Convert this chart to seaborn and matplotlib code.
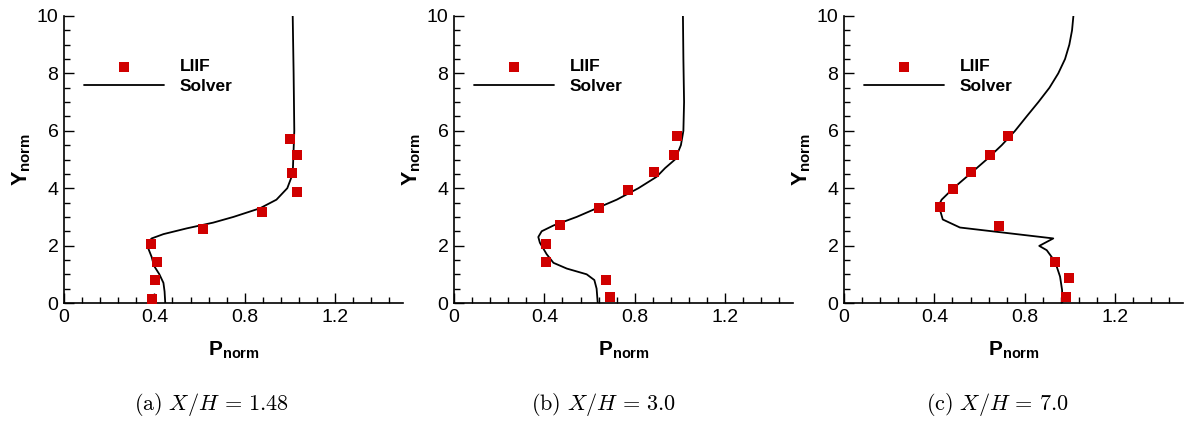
import numpy as np
import pandas as pd
import matplotlib
matplotlib.use("Agg")
import matplotlib.pyplot as plt
from matplotlib.ticker import MultipleLocator, FormatStrFormatter
import seaborn as sns

sns.set_theme(style="white")
plt.rcParams['font.family'] = ['Liberation Sans', 'DejaVu Sans']
plt.rcParams['mathtext.fontset'] = 'custom'
plt.rcParams['mathtext.rm'] = 'Liberation Sans'
plt.rcParams['mathtext.bf'] = 'Liberation Sans:bold'
plt.rcParams['mathtext.it'] = 'Liberation Sans:italic'

# ---------------- data ----------------
captions = [r"$\mathrm{(a)}\ X/H\, =\, 1.48$", r"$\mathrm{(b)}\ X/H\, =\, 3.0$", r"$\mathrm{(c)}\ X/H\, =\, 7.0$"]

# LIIF points (P_norm, Y_norm)
liif_a_p = [0.388, 0.404, 0.41, 0.385, 0.614, 0.876, 1.029, 1.009, 1.032, 0.998]
liif_a_y = [0.15, 0.81, 1.44, 2.05, 2.58, 3.18, 3.87, 4.54, 5.16, 5.72]
liif_b_p = [0.689, 0.673, 0.406, 0.406, 0.469, 0.640, 0.768, 0.885, 0.972, 0.985]
liif_b_y = [0.20, 0.81, 1.44, 2.07, 2.73, 3.32, 3.94, 4.57, 5.16, 5.82]
liif_c_p = [0.982, 0.994, 0.934, 0.684, 0.423, 0.481, 0.560, 0.645, 0.724]
liif_c_y = [0.20, 0.88, 1.44, 2.68, 3.35, 3.98, 4.57, 5.16, 5.82]

# Solver curves (P_norm, Y_norm), ordered by Y
solver_a_p = [0.448, 0.445, 0.440, 0.422, 0.398, 0.388, 0.373, 0.370, 0.388, 0.440, 0.543,
              0.660, 0.750, 0.867, 0.940, 0.988, 1.012, 1.019, 1.016, 1.012]
solver_a_y = [0.0, 0.4, 0.7, 1.0, 1.3, 1.6, 1.9, 2.1, 2.25, 2.4, 2.6,
              2.8, 3.0, 3.3, 3.6, 4.0, 4.5, 6.0, 8.0, 10.0]
solver_b_p = [0.636, 0.631, 0.621, 0.587, 0.499, 0.440, 0.410, 0.395, 0.380, 0.373, 0.388,
              0.440, 0.543, 0.631, 0.720, 0.816, 0.897, 0.934, 0.978, 1.004, 1.015, 1.018, 1.015, 1.013]
solver_b_y = [0.0, 0.5, 0.8, 1.0, 1.2, 1.4, 1.7, 1.9, 2.1, 2.3, 2.5,
              2.7, 3.0, 3.3, 3.6, 4.0, 4.4, 4.7, 5.0, 5.5, 6.0, 7.0, 8.5, 10.0]
solver_c_p = [0.966, 0.965, 0.956, 0.934, 0.897, 0.864, 0.926, 0.513, 0.437, 0.425, 0.419,
              0.432, 0.484, 0.558, 0.631, 0.698, 0.757, 0.808, 0.860, 0.909, 0.948, 0.978,
              0.997, 1.009, 1.015]
solver_c_y = [0.0, 0.45, 0.92, 1.44, 1.84, 1.99, 2.25, 2.63, 2.91, 3.24, 3.4,
              3.6, 4.0, 4.5, 5.0, 5.5, 6.0, 6.5, 7.0, 7.5, 8.0, 8.5,
              9.0, 9.5, 10.0]

liif = [(liif_a_p, liif_a_y), (liif_b_p, liif_b_y), (liif_c_p, liif_c_y)]
solver = [(solver_a_p, solver_a_y), (solver_b_p, solver_b_y), (solver_c_p, solver_c_y)]

red = '#d00000'

fig = plt.figure(figsize=(11.85, 4.25), dpi=100)
W, H = 1185, 425
lefts = [64, 454, 844]
cap_x = [211, 604, 997]

for i in range(3):
    ax = fig.add_axes([lefts[i] / W, 1 - 303 / H, 339 / W, 287 / H])
    ax.set_facecolor('white')
    sp, sy = solver[i]
    lp, ly = liif[i]
    dfs = pd.DataFrame({'P': sp, 'Y': sy})
    dfl = pd.DataFrame({'P': lp, 'Y': ly})
    sns.lineplot(data=dfs, x='P', y='Y', sort=False, estimator=None, color='black',
                 lw=1.3, ax=ax, label='Solver', zorder=2)
    sns.scatterplot(data=dfl, x='P', y='Y', marker='s', color=red, s=42, linewidth=0,
                    ax=ax, label='LIIF', zorder=3)
    ax.set_xlim(0, 1.5)
    ax.set_ylim(0, 10)
    for s in ['top', 'right']:
        ax.spines[s].set_visible(False)
    for s in ['left', 'bottom']:
        ax.spines[s].set_color('black')
        ax.spines[s].set_linewidth(1.2)
    ax.xaxis.set_major_locator(MultipleLocator(0.4))
    ax.xaxis.set_minor_locator(MultipleLocator(0.08))
    ax.yaxis.set_major_locator(MultipleLocator(2))
    ax.yaxis.set_minor_locator(MultipleLocator(0.5))
    ax.xaxis.set_major_formatter(FormatStrFormatter('%g'))
    ax.yaxis.set_major_formatter(FormatStrFormatter('%g'))
    ax.tick_params(which='both', direction='in', colors='black', width=1.0,
                   bottom=True, left=True, top=False, right=False)
    ax.tick_params(which='major', length=7, labelsize=14, pad=4)
    ax.tick_params(which='minor', length=4)
    ax.set_xlabel(r"$\mathbf{P}_{\mathbf{norm}}$", fontsize=15, labelpad=10, color='black')
    ax.set_ylabel(r"$\mathbf{Y}_{\mathbf{norm}}$", fontsize=15.5, labelpad=3, color='black')
    h, l = ax.get_legend_handles_labels()
    order = [l.index('LIIF'), l.index('Solver')]
    leg = ax.legend([h[k] for k in order], [l[k] for k in order], loc='upper left',
                    bbox_to_anchor=(0.06, 0.85), frameon=False, handlelength=4.6,
                    handletextpad=0.9, labelspacing=0.25, borderpad=0, borderaxespad=0,
                    prop={'family': 'Liberation Sans', 'weight': 'bold', 'size': 12.5},
                    markerscale=1.0)
    for t in leg.get_texts():
        t.set_color('black')
    fig.text(cap_x[i] / W, 1 - 405 / H, captions[i], ha='center', va='center',
             fontsize=16, math_fontfamily='cm', color='black')

fig.savefig('out.png', dpi=100, facecolor='white')
